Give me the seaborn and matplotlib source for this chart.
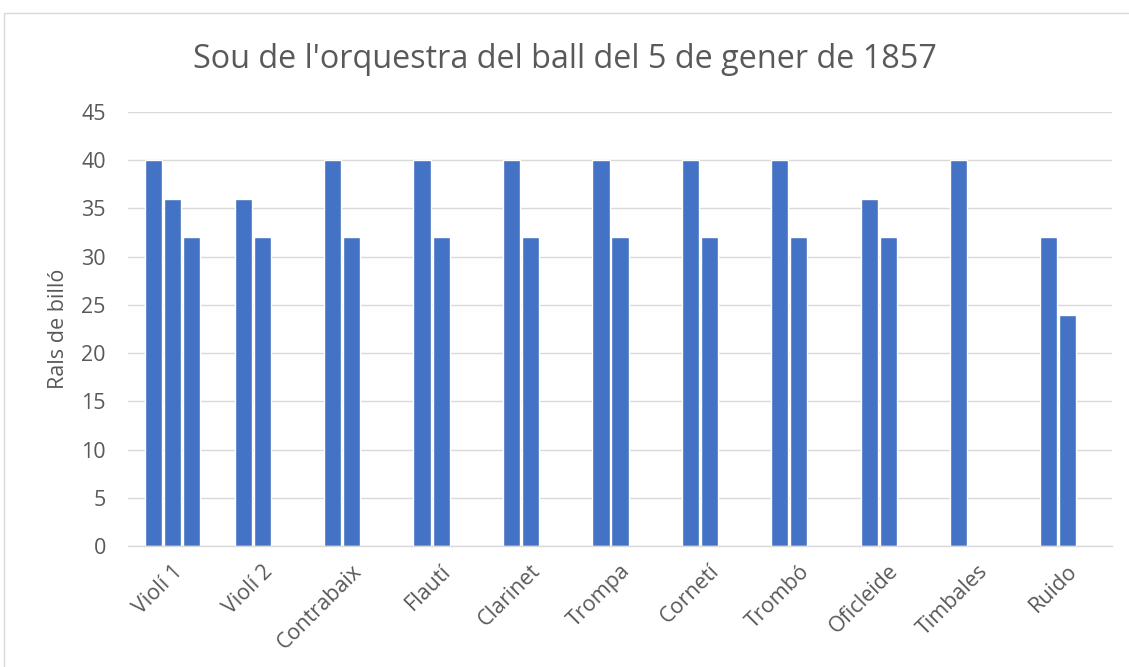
import numpy as np
import pandas as pd
import matplotlib
matplotlib.use("Agg")
import matplotlib.pyplot as plt
import matplotlib.transforms as mtransforms
import seaborn as sns
from matplotlib.patches import Rectangle

categories = ["Violí 1", "Violí 2", "Contrabaix", "Flautí", "Clarinet", "Trompa",
              "Cornetí", "Trombó", "Oficleide", "Timbales", "Ruido"]
serie1 = [40, 36, 40, 40, 40, 40, 40, 40, 36, 40, 32]
serie2 = [36, 32, 32, 32, 32, 32, 32, 32, 32, np.nan, 24]
serie3 = [32, np.nan, np.nan, np.nan, np.nan, np.nan, np.nan, np.nan, np.nan, np.nan, np.nan]
series_names = ["Sèrie 1", "Sèrie 2", "Sèrie 3"]
title = "Sou de l'orquestra del ball del 5 de gener de 1857"
ylabel = "Rals de billó"

rows = []
for name, vals in zip(series_names, [serie1, serie2, serie3]):
    for c, v in zip(categories, vals):
        rows.append({"Instrument": c, "Sèrie": name, "Valor": v})
df = pd.DataFrame(rows)

sns.set_theme(style="white")
plt.rcParams['font.family'] = ['Open Sans', 'DejaVu Sans']

fig = plt.figure(figsize=(11.29, 6.67), dpi=100)
ax = fig.add_axes([128/1129, 1-546/667, (1112-128)/1129, (546-112)/667])

color = "#4472C4"
sns.barplot(data=df, x="Instrument", y="Valor", hue="Sèrie", order=categories,
            hue_order=series_names, palette=[color]*3, width=0.64, gap=0.1,
            dodge=True, legend=False, ax=ax, saturation=1, errorbar=None)

ax.set_ylim(0, 45)
ax.set_yticks(range(0, 46, 5))
ax.yaxis.grid(True, color="#D9D9D9", linewidth=1)
ax.set_axisbelow(True)
for s in ["top", "right", "left"]:
    ax.spines[s].set_visible(False)
ax.spines["bottom"].set_color("#D9D9D9")
ax.spines["bottom"].set_linewidth(1)
ax.tick_params(axis="both", length=0, colors="#595959", labelsize=15.5)
ax.tick_params(axis="y", pad=16)
ax.tick_params(axis="x", pad=16)
offset = mtransforms.ScaledTranslation(7/100, 0, fig.dpi_scale_trans)
for lbl in ax.get_xticklabels():
    lbl.set_rotation(45)
    lbl.set_ha("right")
    lbl.set_va("center")
    lbl.set_rotation_mode("anchor")
    lbl.set_transform(lbl.get_transform() + offset)
ax.set_xlabel("")
ax.set_ylabel(ylabel, color="#595959", fontsize=15.5, labelpad=9)
fig.text(0.5, 1-59/667, title, ha="center", va="center", fontsize=23.3, color="#595959")

fig.patches.append(Rectangle((4/1129, -0.01), 1.1, 1-13/667+0.01, transform=fig.transFigure,
                             fill=False, edgecolor="#D9D9D9", linewidth=1))

fig.savefig("out.png", dpi=100)
